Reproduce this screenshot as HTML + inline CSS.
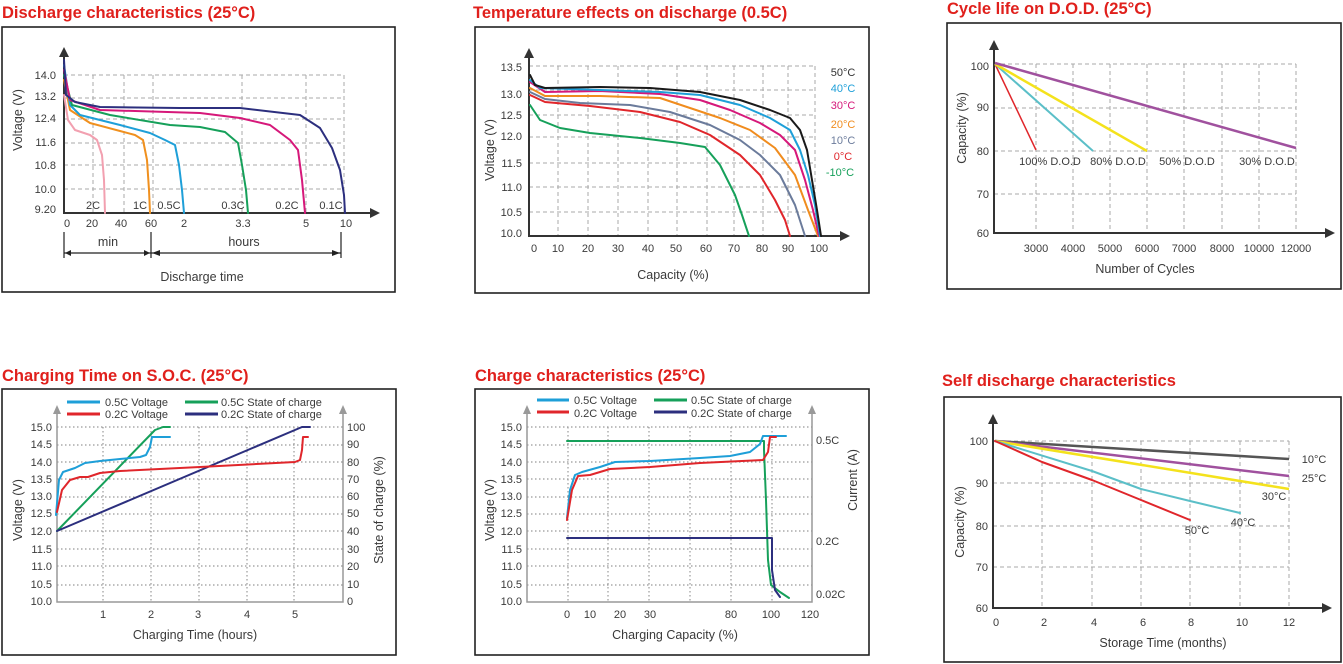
<!DOCTYPE html>
<html><head><meta charset="utf-8">
<style>
html,body{margin:0;padding:0;background:#fff;}
svg{display:block;font-family:"Liberation Sans",sans-serif;}
.t{fill:#e0201c;font-weight:bold;font-size:16.5px;}
.k{fill:#3a3a3a;font-size:11px;}
.a{fill:#3a3a3a;font-size:12.5px;}
.g{stroke:#aaa;stroke-width:1;stroke-dasharray:4,3;fill:none;}
.d{stroke:#999;stroke-width:1.2;stroke-dasharray:1.5,2.5;fill:none;}
.box{fill:none;stroke:#222;stroke-width:1.6;}
.ax{stroke:#333;stroke-width:2;fill:none;}
.c{fill:none;stroke-width:2;stroke-linejoin:round;stroke-linecap:round;}
</style></head><body>
<svg width="1343" height="664" viewBox="0 0 1343 664">
<!-- ===== Chart 1 ===== -->
<text class="t" x="2" y="18">Discharge characteristics (25°C)</text>
<rect class="box" x="2" y="27" width="393" height="265"/>
<g class="g">
<line x1="64" y1="75" x2="344" y2="75"/><line x1="64" y1="98" x2="344" y2="98"/><line x1="64" y1="119" x2="344" y2="119"/><line x1="64" y1="143" x2="344" y2="143"/><line x1="64" y1="165" x2="344" y2="165"/><line x1="64" y1="189" x2="344" y2="189"/>
<line x1="93" y1="75" x2="93" y2="213"/><line x1="124" y1="75" x2="124" y2="213"/><line x1="153" y1="75" x2="153" y2="213"/><line x1="242" y1="75" x2="242" y2="213"/><line x1="306" y1="75" x2="306" y2="213"/><line x1="344" y1="75" x2="344" y2="213"/>
</g>
<polyline class="ax" points="64,54 64,213 372,213"/>
<polygon points="64,47 59,57 69,57" fill="#333"/><polygon points="380,213 370,208 370,218" fill="#333"/>
<g class="k" text-anchor="end"><text x="56" y="79">14.0</text><text x="56" y="100">13.2</text><text x="56" y="122">12.4</text><text x="56" y="146">11.6</text><text x="56" y="169">10.8</text><text x="56" y="193">10.0</text><text x="56" y="213">9.20</text></g>
<g class="k" text-anchor="middle"><text x="67" y="227">0</text><text x="92" y="227">20</text><text x="121" y="227">40</text><text x="151" y="227">60</text><text x="184" y="227">2</text><text x="243" y="227">3.3</text><text x="306" y="227">5</text><text x="346" y="227">10</text>
<text x="93" y="209">2C</text><text x="140" y="209">1C</text><text x="169" y="209">0.5C</text><text x="233" y="209">0.3C</text><text x="287" y="209">0.2C</text><text x="331" y="209">0.1C</text></g>
<text class="a" transform="translate(22,120) rotate(-90)" text-anchor="middle">Voltage (V)</text>
<g stroke="#222" stroke-width="1.2"><line x1="64" y1="232" x2="64" y2="258"/><line x1="151" y1="232" x2="151" y2="258"/><line x1="341" y1="232" x2="341" y2="258"/><line x1="64" y1="253" x2="151" y2="253"/><line x1="151" y1="253" x2="341" y2="253"/></g>
<g fill="#222"><polygon points="65,253 71,250 71,256"/><polygon points="150,253 144,250 144,256"/><polygon points="152,253 160,250 160,256"/><polygon points="340,253 332,250 332,256"/></g>
<text class="a" x="108" y="246" text-anchor="middle">min</text><text class="a" x="244" y="246" text-anchor="middle">hours</text>
<text class="a" x="202" y="281" text-anchor="middle">Discharge time</text>
<polyline class="c" stroke="#f2a0b0" points="64,95 68,120 75,130 90,135 97,140 102,155 104,180 105,213"/>
<polyline class="c" stroke="#f0901e" points="64,80 70,110 90,123 120,131 135,135 143,140 147,160 149,190 150,213"/>
<polyline class="c" stroke="#1e9fd8" points="64,65 70,105 80,115 120,125 150,133 165,140 175,145 179,165 182,190 184,213"/>
<polyline class="c" stroke="#16a05a" points="64,75 72,105 110,115 170,125 200,127 225,132 238,143 242,165 246,190 248,213"/>
<polyline class="c" stroke="#d6187a" points="64,70 70,100 100,110 200,113 240,118 270,125 290,140 298,150 302,180 305,213"/>
<polyline class="c" stroke="#2c2f7e" points="64,60 66,95 75,102 100,107 180,108 240,108 300,115 320,128 332,148 340,170 344,195 345,213"/>

<!-- ===== Chart 2 ===== -->
<text class="t" x="473" y="18">Temperature effects on discharge (0.5C)</text>
<rect class="box" x="475" y="27" width="394" height="266"/>
<g class="g">
<line x1="529" y1="66" x2="815" y2="66"/><line x1="529" y1="90" x2="815" y2="90"/><line x1="529" y1="115" x2="815" y2="115"/><line x1="529" y1="137" x2="815" y2="137"/><line x1="529" y1="163" x2="815" y2="163"/><line x1="529" y1="187" x2="815" y2="187"/><line x1="529" y1="212" x2="815" y2="212"/>
<line x1="558" y1="66" x2="558" y2="236"/><line x1="588" y1="66" x2="588" y2="236"/><line x1="618" y1="66" x2="618" y2="236"/><line x1="648" y1="66" x2="648" y2="236"/><line x1="677" y1="66" x2="677" y2="236"/><line x1="707" y1="66" x2="707" y2="236"/><line x1="734" y1="66" x2="734" y2="236"/><line x1="763" y1="66" x2="763" y2="236"/><line x1="788" y1="66" x2="788" y2="236"/><line x1="815" y1="66" x2="815" y2="236"/>
</g>
<polyline class="ax" points="529,56 529,236 842,236"/>
<polygon points="529,48 524,58 534,58" fill="#333"/><polygon points="850,236 840,231 840,241" fill="#333"/>
<g class="k" text-anchor="end"><text x="522" y="71">13.5</text><text x="522" y="98">13.0</text><text x="522" y="119">12.5</text><text x="522" y="140">12.0</text><text x="522" y="167">11.5</text><text x="522" y="191">11.0</text><text x="522" y="216">10.5</text><text x="522" y="237">10.0</text></g>
<g class="k" text-anchor="middle"><text x="534" y="252">0</text><text x="558" y="252">10</text><text x="588" y="252">20</text><text x="618" y="252">30</text><text x="648" y="252">40</text><text x="676" y="252">50</text><text x="706" y="252">60</text><text x="734" y="252">70</text><text x="762" y="252">80</text><text x="788" y="252">90</text><text x="819" y="252">100</text></g>
<text class="a" x="673" y="279" text-anchor="middle">Capacity (%)</text>
<text class="a" transform="translate(494,150) rotate(-90)" text-anchor="middle">Voltage (V)</text>
<g font-size="11px" text-anchor="middle"><text x="843" y="76" fill="#333">50°C</text><text x="843" y="92" fill="#1e9fd8">40°C</text><text x="843" y="109" fill="#d6187a">30°C</text><text x="843" y="128" fill="#f08c1e">20°C</text><text x="843" y="144" fill="#6b7b9b">10°C</text><text x="843" y="160" fill="#e0262b">0°C</text><text x="840" y="176" fill="#16a05a">-10°C</text></g>
<polyline class="c" stroke="#16a05a" points="530,105 540,120 560,128 590,133 640,138 680,143 705,147 720,165 735,195 742,215 749,236"/>
<polyline class="c" stroke="#e0262b" points="530,95 545,102 590,106 640,112 680,122 710,135 740,155 760,175 775,200 785,220 790,236"/>
<polyline class="c" stroke="#6b7b9b" points="530,92 545,99 580,103 630,105 670,112 710,125 740,140 760,155 780,175 795,205 805,236"/>
<polyline class="c" stroke="#f08c1e" points="530,88 545,96 600,96 660,98 690,108 720,118 750,130 775,148 795,175 808,210 818,236"/>
<polyline class="c" stroke="#d6187a" points="530,82 545,92 600,91 660,94 700,100 730,110 760,123 780,135 795,150 805,180 813,210 819,236"/>
<polyline class="c" stroke="#1e9fd8" points="530,80 540,88 600,90 660,92 700,95 740,105 770,118 790,130 800,150 808,175 815,205 820,236"/>
<polyline class="c" stroke="#1a1a1a" points="530,75 535,85 545,88 600,87 650,88 700,92 740,100 770,110 790,118 800,130 807,150 812,180 817,210 821,236"/>

<!-- ===== Chart 3 ===== -->
<text class="t" x="947" y="14">Cycle life on D.O.D. (25°C)</text>
<rect class="box" x="947" y="23" width="394" height="266"/>
<g class="g">
<line x1="994" y1="64" x2="1296" y2="64"/><line x1="994" y1="108" x2="1296" y2="108"/><line x1="994" y1="151" x2="1296" y2="151"/><line x1="994" y1="194" x2="1296" y2="194"/>
<line x1="1036" y1="64" x2="1036" y2="233"/><line x1="1073" y1="64" x2="1073" y2="233"/><line x1="1110" y1="64" x2="1110" y2="233"/><line x1="1147" y1="64" x2="1147" y2="233"/><line x1="1184" y1="64" x2="1184" y2="233"/><line x1="1222" y1="64" x2="1222" y2="233"/><line x1="1259" y1="64" x2="1259" y2="233"/><line x1="1296" y1="64" x2="1296" y2="233"/>
</g>
<polyline class="ax" points="994,48 994,233 1327,233"/>
<polygon points="994,40 989,50 999,50" fill="#333"/><polygon points="1335,233 1325,228 1325,238" fill="#333"/>
<g class="k" text-anchor="end"><text x="989" y="70">100</text><text x="989" y="111">90</text><text x="989" y="155">80</text><text x="989" y="198">70</text><text x="989" y="237">60</text></g>
<g class="k" text-anchor="middle"><text x="1036" y="252">3000</text><text x="1073" y="252">4000</text><text x="1110" y="252">5000</text><text x="1147" y="252">6000</text><text x="1184" y="252">7000</text><text x="1222" y="252">8000</text><text x="1259" y="252">10000</text><text x="1296" y="252">12000</text>
<text x="1050" y="165">100% D.O.D</text><text x="1118" y="165">80% D.O.D</text><text x="1187" y="165">50% D.O.D</text><text x="1267" y="165">30% D.O.D</text></g>
<text class="a" x="1145" y="273" text-anchor="middle">Number of Cycles</text>
<text class="a" transform="translate(966,128) rotate(-90)" text-anchor="middle">Capacity (%)</text>
<line x1="995" y1="64" x2="1036" y2="150" stroke="#e0262b" stroke-width="1.5"/>
<line x1="995" y1="64" x2="1093" y2="151" stroke="#5bbfc8" stroke-width="2"/>
<line x1="995" y1="64" x2="1147" y2="151" stroke="#f4e21c" stroke-width="2.5"/>
<line x1="995" y1="63" x2="1296" y2="148" stroke="#a0519e" stroke-width="2.5"/>

<!-- ===== Chart 4 ===== -->
<text class="t" x="2" y="381">Charging Time on S.O.C. (25°C)</text>
<rect class="box" x="2" y="389" width="394" height="266"/>
<g class="d">
<line x1="57" y1="427" x2="343" y2="427"/><line x1="57" y1="445" x2="343" y2="445"/><line x1="57" y1="462" x2="343" y2="462"/><line x1="57" y1="479" x2="343" y2="479"/><line x1="57" y1="497" x2="343" y2="497"/><line x1="57" y1="514" x2="343" y2="514"/><line x1="57" y1="531" x2="343" y2="531"/><line x1="57" y1="549" x2="343" y2="549"/><line x1="57" y1="566" x2="343" y2="566"/><line x1="57" y1="585" x2="343" y2="585"/>
<line x1="103" y1="427" x2="103" y2="602"/><line x1="151" y1="427" x2="151" y2="602"/><line x1="199" y1="427" x2="199" y2="602"/><line x1="247" y1="427" x2="247" y2="602"/><line x1="294" y1="427" x2="294" y2="602"/>
</g>
<polyline stroke="#999" stroke-width="1.5" fill="none" points="57,412 57,602 343,602 343,412"/>
<polygon points="57,405 53,414 61,414" fill="#999"/><polygon points="343,405 339,414 347,414" fill="#999"/>
<g class="k" text-anchor="end"><text x="52" y="431">15.0</text><text x="52" y="448">14.5</text><text x="52" y="466">14.0</text><text x="52" y="483">13.5</text><text x="52" y="500">13.0</text><text x="52" y="517">12.5</text><text x="52" y="535">12.0</text><text x="52" y="553">11.5</text><text x="52" y="570">11.0</text><text x="52" y="588">10.5</text><text x="52" y="605">10.0</text></g>
<g class="k"><text x="347" y="431">100</text><text x="347" y="448">90</text><text x="347" y="466">80</text><text x="347" y="483">70</text><text x="347" y="500">60</text><text x="347" y="517">50</text><text x="347" y="535">40</text><text x="347" y="553">30</text><text x="347" y="570">20</text><text x="347" y="588">10</text><text x="347" y="605">0</text></g>
<g class="k" text-anchor="middle"><text x="103" y="618">1</text><text x="151" y="618">2</text><text x="198" y="618">3</text><text x="247" y="618">4</text><text x="295" y="618">5</text></g>
<text class="a" x="195" y="639" text-anchor="middle">Charging Time (hours)</text>
<text class="a" transform="translate(22,510) rotate(-90)" text-anchor="middle">Voltage (V)</text>
<text class="a" transform="translate(383,510) rotate(-90)" text-anchor="middle">State of charge (%)</text>
<g stroke-width="3"><line x1="67" y1="402" x2="100" y2="402" stroke="#1e9fd8"/><line x1="67" y1="414" x2="100" y2="414" stroke="#e0262b"/><line x1="185" y1="402" x2="218" y2="402" stroke="#16a05a"/><line x1="185" y1="414" x2="218" y2="414" stroke="#2c2f7e"/></g>
<g class="k"><text x="105" y="406">0.5C Voltage</text><text x="105" y="418">0.2C Voltage</text><text x="221" y="406">0.5C State of charge</text><text x="221" y="418">0.2C State of charge</text></g>
<polyline class="c" stroke="#16a05a" points="57,531 155,430 163,427 170,427"/>
<polyline class="c" stroke="#2c2f7e" points="57,531 302,427 310,427"/>
<polyline class="c" stroke="#1e9fd8" points="56,515 59,480 63,472 75,468 85,463 100,461 120,459 140,457 146,455 150,447 152,437 155,437 170,437"/>
<polyline class="c" stroke="#e0262b" points="57,512 62,490 70,480 80,477 88,477 100,473 120,471 200,467 295,462 300,460 302,450 303,437 308,437"/>

<!-- ===== Chart 5 ===== -->
<text class="t" x="475" y="381">Charge characteristics (25°C)</text>
<rect class="box" x="475" y="389" width="394" height="266"/>
<g class="d">
<line x1="527" y1="427" x2="812" y2="427"/><line x1="527" y1="445" x2="812" y2="445"/><line x1="527" y1="462" x2="812" y2="462"/><line x1="527" y1="479" x2="812" y2="479"/><line x1="527" y1="497" x2="812" y2="497"/><line x1="527" y1="514" x2="812" y2="514"/><line x1="527" y1="531" x2="812" y2="531"/><line x1="527" y1="549" x2="812" y2="549"/><line x1="527" y1="566" x2="812" y2="566"/><line x1="527" y1="585" x2="812" y2="585"/>
<line x1="568" y1="427" x2="568" y2="602"/><line x1="608" y1="427" x2="608" y2="602"/><line x1="649" y1="427" x2="649" y2="602"/><line x1="690" y1="427" x2="690" y2="602"/><line x1="731" y1="427" x2="731" y2="602"/><line x1="772" y1="427" x2="772" y2="602"/>
</g>
<polyline stroke="#999" stroke-width="1.5" fill="none" points="527,412 527,602 812,602 812,412"/>
<polygon points="527,405 523,414 531,414" fill="#999"/><polygon points="812,405 808,414 816,414" fill="#999"/>
<g class="k" text-anchor="end"><text x="522" y="431">15.0</text><text x="522" y="448">14.5</text><text x="522" y="466">14.0</text><text x="522" y="483">13.5</text><text x="522" y="500">13.0</text><text x="522" y="517">12.5</text><text x="522" y="535">12.0</text><text x="522" y="553">11.5</text><text x="522" y="570">11.0</text><text x="522" y="588">10.5</text><text x="522" y="605">10.0</text></g>
<g class="k"><text x="816" y="444">0.5C</text><text x="816" y="545">0.2C</text><text x="816" y="598">0.02C</text></g>
<g class="k" text-anchor="middle"><text x="567" y="618">0</text><text x="590" y="618">10</text><text x="620" y="618">20</text><text x="650" y="618">30</text><text x="731" y="618">80</text><text x="771" y="618">100</text><text x="810" y="618">120</text></g>
<text class="a" x="675" y="639" text-anchor="middle">Charging Capacity (%)</text>
<text class="a" transform="translate(494,510) rotate(-90)" text-anchor="middle">Voltage (V)</text>
<text class="a" transform="translate(857,480) rotate(-90)" text-anchor="middle">Current (A)</text>
<g stroke-width="3"><line x1="537" y1="400" x2="569" y2="400" stroke="#1e9fd8"/><line x1="537" y1="412" x2="569" y2="412" stroke="#e0262b"/><line x1="654" y1="400" x2="687" y2="400" stroke="#16a05a"/><line x1="654" y1="412" x2="687" y2="412" stroke="#2c2f7e"/></g>
<g class="k"><text x="574" y="404">0.5C Voltage</text><text x="574" y="417">0.2C Voltage</text><text x="691" y="404">0.5C State of charge</text><text x="691" y="417">0.2C State of charge</text></g>
<polyline class="c" stroke="#16a05a" points="567,441 764,441 764,450 766,500 768,560 771,585 780,592 789,598"/>
<polyline class="c" stroke="#2c2f7e" points="567,538 772,538 772,570 775,590 780,597"/>
<polyline class="c" stroke="#1e9fd8" points="567,518 570,490 575,475 582,472 600,467 615,462 650,461 700,458 730,456 750,452 760,444 763,436 765,436 786,436"/>
<polyline class="c" stroke="#e0262b" points="567,520 572,490 578,476 590,475 610,469 650,467 700,463 763,460 768,452 770,437 776,437"/>

<!-- ===== Chart 6 ===== -->
<text class="t" x="942" y="386">Self discharge characteristics</text>
<rect class="box" x="944" y="397" width="397" height="265"/>
<g class="g">
<line x1="993" y1="441" x2="1289" y2="441"/><line x1="993" y1="483" x2="1289" y2="483"/><line x1="993" y1="526" x2="1289" y2="526"/><line x1="993" y1="567" x2="1289" y2="567"/>
<line x1="1042" y1="441" x2="1042" y2="608"/><line x1="1092" y1="441" x2="1092" y2="608"/><line x1="1141" y1="441" x2="1141" y2="608"/><line x1="1190" y1="441" x2="1190" y2="608"/><line x1="1240" y1="441" x2="1240" y2="608"/><line x1="1289" y1="441" x2="1289" y2="608"/>
</g>
<polyline class="ax" points="993,422 993,608 1324,608"/>
<polygon points="993,414 988,424 998,424" fill="#333"/><polygon points="1332,608 1322,603 1322,613" fill="#333"/>
<g class="k" text-anchor="end"><text x="988" y="445">100</text><text x="988" y="487">90</text><text x="988" y="530">80</text><text x="988" y="571">70</text><text x="988" y="612">60</text></g>
<g class="k" text-anchor="middle"><text x="996" y="626">0</text><text x="1044" y="626">2</text><text x="1094" y="626">4</text><text x="1143" y="626">6</text><text x="1191" y="626">8</text><text x="1242" y="626">10</text><text x="1289" y="626">12</text>
<text x="1314" y="463">10°C</text><text x="1314" y="482">25°C</text><text x="1274" y="500">30°C</text><text x="1243" y="526">40°C</text><text x="1197" y="534">50°C</text></g>
<text class="a" x="1163" y="647" text-anchor="middle">Storage Time (months)</text>
<text class="a" transform="translate(964,522) rotate(-90)" text-anchor="middle">Capacity (%)</text>
<line x1="995" y1="441" x2="1289" y2="459" stroke="#555" stroke-width="2.5"/>
<line x1="995" y1="441" x2="1289" y2="476" stroke="#a0519e" stroke-width="2.5"/>
<line x1="995" y1="441" x2="1289" y2="489" stroke="#f4e21c" stroke-width="2.5"/>
<polyline class="c" stroke="#5bbfc8" stroke-width="2.5" points="995,441 1092,471 1141,489 1190,501 1240,513"/>
<polyline class="c" stroke="#e0262b" stroke-width="2.5" points="995,441 1042,462 1092,480 1141,500 1190,520"/>
</svg>
</body></html>
